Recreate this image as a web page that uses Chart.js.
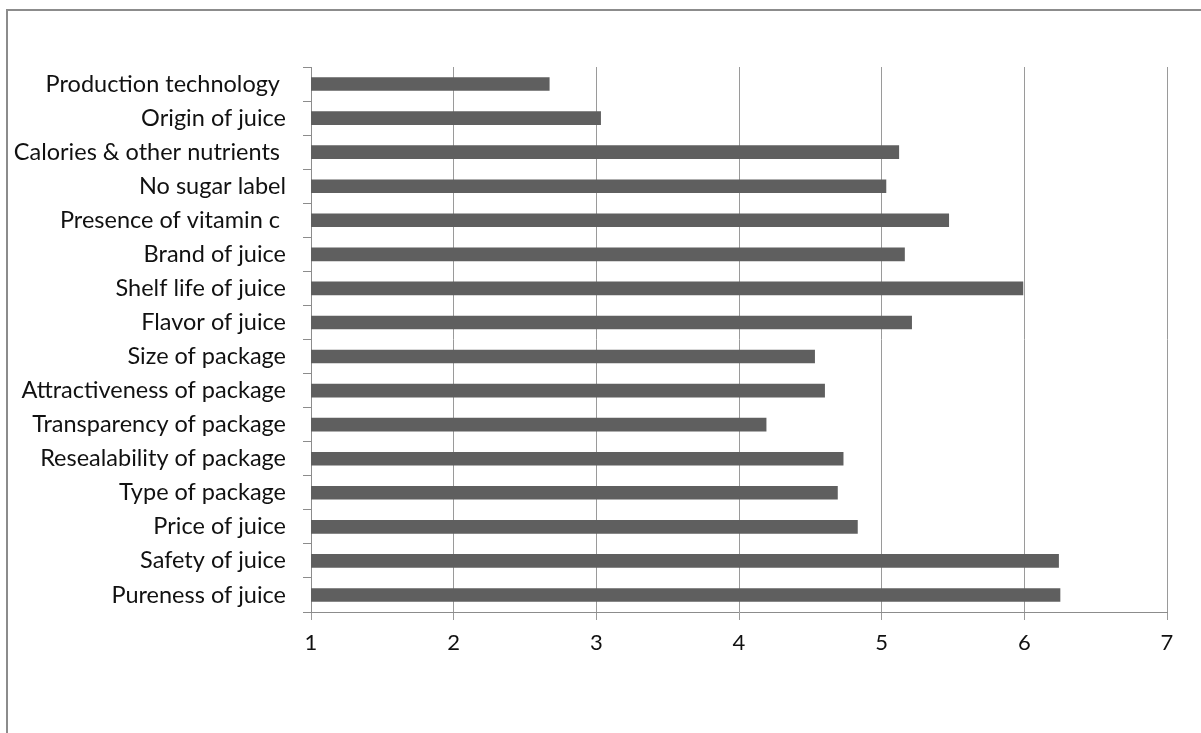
<!DOCTYPE html>
<html>
<head>
<meta charset="utf-8">
<script src="https://cdn.jsdelivr.net/npm/chart.js@4"></script>
<style>
  html, body { margin: 0; padding: 0; background: #fff; }
  #wrap { position: relative; width: 1201px; height: 733px; overflow: hidden; }
  #frame { position: absolute; left: 6px; top: 9px; width: 1300px; height: 800px;
           border-top: 2px solid #8c8c8c; border-left: 2px solid #8c8c8c; }
  canvas { position: absolute; left: 0; top: 0; }
</style>
</head>
<body>
<div id="wrap">
  <div id="frame"></div>
  <canvas id="bar-chart" width="1201" height="733"></canvas>
</div>
<script>
const categories = [
  'Production technology ',
  'Origin of juice',
  'Calories & other nutrients ',
  'No sugar label',
  'Presence of vitamin c ',
  'Brand of juice',
  'Shelf life of juice',
  'Flavor of juice',
  'Size of package',
  'Attractiveness of package',
  'Transparency of package',
  'Resealability of package',
  'Type of package',
  'Price of juice',
  'Safety of juice',
  'Pureness of juice'
];
const scores = [2.67, 3.03, 5.12, 5.03, 5.47, 5.16, 5.99, 5.21, 4.53, 4.60, 4.19, 4.73, 4.69, 4.83, 6.24, 6.25];
const xTicks = [1, 2, 3, 4, 5, 6, 7];

const config = {
  type: 'bar',
  data: {
    labels: categories,
    datasets: [{
      data: scores,
      backgroundColor: '#5f5f5f',
      borderWidth: 0,
      barThickness: 13
    }]
  },
  options: {
    indexAxis: 'y',
    responsive: false,
    animation: false,
    layout: { padding: { left: 0, top: 67, right: 34, bottom: 0 } },
    plugins: {
      legend: { display: false },
      tooltip: { enabled: false }
    },
    scales: {
      x: {
        min: 1,
        max: 7,
        afterBuildTicks: (scale) => { scale.ticks = xTicks.map(v => ({ value: v })); },
        afterFit: (scale) => { scale.height = 121; },
        grid: { color: '#9a9a9a', lineWidth: 1, tickLength: 8 },
        border: { color: '#8c8c8c', width: 1 },
        ticks: {
          color: '#111',
          padding: 10,
          font: { family: 'Lato', size: 22 }
        }
      },
      y: {
        afterFit: (scale) => { scale.width = 311; },
        grid: { drawOnChartArea: false, color: '#8c8c8c', tickLength: 8 },
        border: { color: '#8c8c8c', width: 1 },
        ticks: {
          color: '#111',
          padding: 17,
          font: { family: 'Lato', size: 23.5 }
        }
      }
    }
  }
};

var ctx = document.getElementById('bar-chart').getContext('2d');
window.myBar = new Chart(ctx, config);
</script>
</body>
</html>
